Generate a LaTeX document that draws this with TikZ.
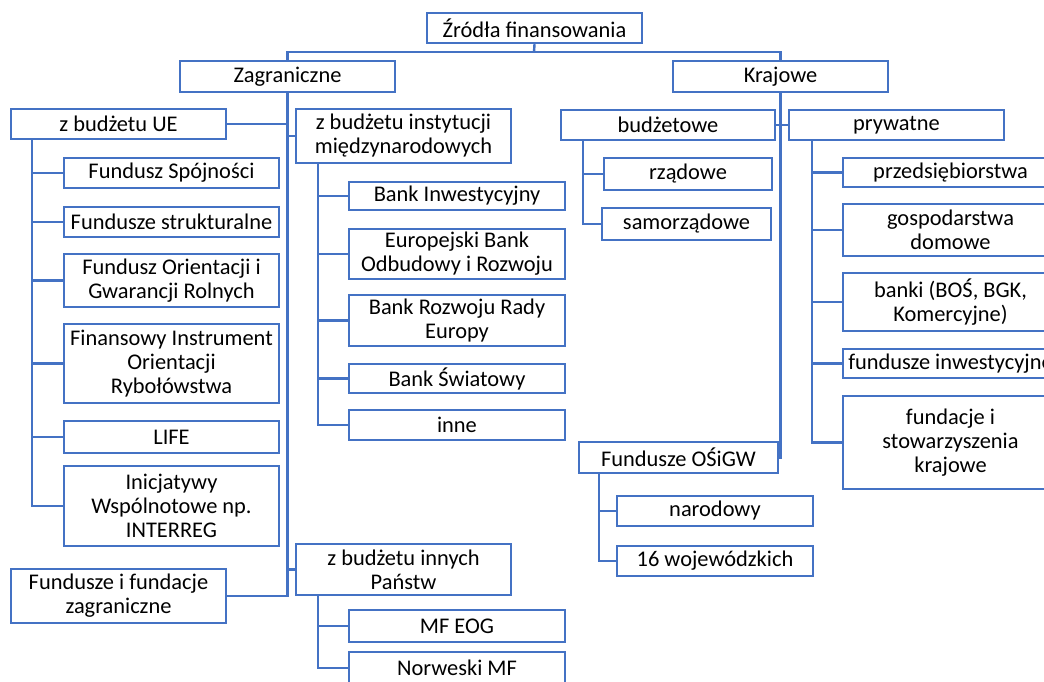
\documentclass[tikz,border=0pt]{standalone}
\usepackage{fontspec}
\setmainfont{Carlito}
\definecolor{obl}{HTML}{4472C4}
\newcommand\bx[6]{\node[box, minimum width={(#4-#2)*0.75pt}, minimum height={(#5-#3)*0.75pt}] (#1) at ({(#2+#4)/2},{(#3+#5)/2}) {#6};}
\begin{document}
\begin{tikzpicture}[x=0.75pt,y=-0.75pt,
  box/.style={draw=obl, line width=1.8pt, fill=white, inner sep=0pt, align=center,
    font=\fontsize{16.8pt}{18pt}\selectfont, text=black},
  conn/.style={draw=obl, line width=1.8pt}]
\useasboundingbox (0,0) rectangle (1044,681);
\clip (0,0) rectangle (1044,681);
\coordinate (bus) at (534,52);
\coordinate (ueS) at (32,139);
\coordinate (instS) at (318,163);
\coordinate (innS) at (318,595);
\coordinate (budS) at (583,140);
\coordinate (prS) at (812,140);
\coordinate (osS) at (599,473);
% boxes
\bx{root}{427}{13}{642}{43}{Źródła finansowania}
\bx{zag}{180}{61}{395}{92}{Zagraniczne}
\bx{kraj}{673}{61}{888}{92}{Krajowe}
\bx{ue}{11}{109}{226}{139}{z budżetu UE}
\bx{inst}{296}{109}{511}{163}{z budżetu instytucji\\międzynarodowych}
\bx{innych}{296}{544}{511}{595}{z budżetu innych\\Państw}
\bx{fzag}{11}{569}{226}{623}{Fundusze i fundacje\\zagraniczne}
\bx{fs}{64}{158}{279}{188}{Fundusz Spójności}
\bx{fst}{64}{207}{279}{237}{Fundusze strukturalne}
\bx{for}{64}{254}{279}{307}{Fundusz Orientacji i\\Gwarancji Rolnych}
\bx{fir}{64}{324}{279}{403}{Finansowy Instrument\\Orientacji\\Rybołówstwa}
\bx{life}{64}{421}{279}{453}{LIFE}
\bx{ini}{64}{466}{279}{546}{Inicjatywy\\Wspólnotowe np.\\INTERREG}
\bx{bi}{349}{182}{565}{210}{Bank Inwestycyjny}
\bx{ebor}{349}{229}{565}{279}{Europejski Bank\\Odbudowy i Rozwoju}
\bx{brre}{349}{295}{565}{346}{Bank Rozwoju Rady\\Europy}
\bx{bs}{349}{364}{565}{393}{Bank Światowy}
\bx{inne}{349}{410}{565}{440}{inne}
\bx{mfeog}{349}{610}{565}{642}{MF EOG}
\bx{nmf}{349}{652}{565}{684}{Norweski MF}
\bx{bud}{561}{110}{775}{140}{budżetowe}
\bx{pryw}{789}{110}{1004}{140}{prywatne}
\bx{rz}{604}{158}{772}{190}{rządowe}
\bx{sam}{602}{208}{771}{240}{samorządowe}
\bx{prz}{843}{158}{1058}{187}{przedsiębiorstwa}
\bx{gd}{843}{204}{1058}{256}{gospodarstwa\\domowe}
\bx{banki}{843}{273}{1058}{331}{banki (BOŚ, BGK,\\Komercyjne)}
\bx{fi}{843}{349}{1058}{378}{\makebox[0pt]{fundusze inwestycyjne}}
\bx{fund}{843}{396}{1058}{489}{fundacje i\\stowarzyszenia\\krajowe}
\bx{osigw}{579}{442}{778}{473}{Fundusze OŚiGW}
\bx{nar}{617}{496}{813}{526}{narodowy}
\bx{woj}{617}{546}{813}{576}{16 wojewódzkich}
% connectors
\draw[conn] (root.south) -- (bus);
\draw[conn] (zag.north) |- (bus) -| (kraj.north);
\draw[conn] (zag.south) |- (fzag.east);
\draw[conn] (ue.east) -- (ue.east -| zag.south);
\draw[conn] (inst.west) -- (inst.west -| zag.south);
\draw[conn] (innych.west) -- (innych.west -| zag.south);
\draw[conn] (kraj.south) |- (osigw.east);
\draw[conn] (bud.east) -- (bud.east -| kraj.south);
\draw[conn] (pryw.west) -- (pryw.west -| kraj.south);
\foreach \c in {fs,fst,for,fir,life,ini} \draw[conn] (ueS) |- (\c.west);
\foreach \c in {bi,ebor,brre,bs,inne} \draw[conn] (instS) |- (\c.west);
\foreach \c in {mfeog,nmf} \draw[conn] (innS) |- (\c.west);
\foreach \c in {rz,sam} \draw[conn] (budS) |- (\c.west);
\foreach \c in {prz,gd,banki,fi,fund} \draw[conn] (prS) |- (\c.west);
\foreach \c in {nar,woj} \draw[conn] (osS) |- (\c.west);
\end{tikzpicture}
\end{document}
